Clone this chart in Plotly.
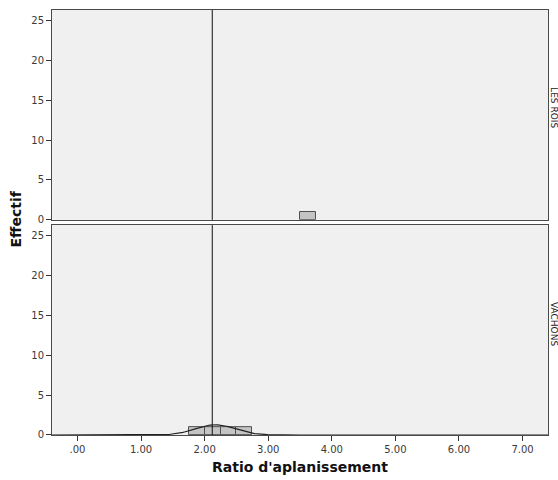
import plotly.graph_objects as go
from plotly.subplots import make_subplots
import numpy as np

# ---- data ----
panel_names = ["LES ROIS", "VACHONS"]
bin_width = 0.25
rois_bin_starts = [3.50]
rois_counts = [1]
vachons_bin_starts = [1.75, 2.00, 2.25, 2.50]
vachons_counts = [1, 1, 1, 1]
# fitted normal curve parameters (VACHONS)
curve_mean = 2.17
curve_sd = 0.31
curve_n = 4
ref_line_x = 2.12
x_tick_vals = [0, 1, 2, 3, 4, 5, 6, 7]
x_tick_text = [".00", "1.00", "2.00", "3.00", "4.00", "5.00", "6.00", "7.00"]
y_tick_vals = [0, 5, 10, 15, 20, 25]

W, H = 558, 480
ml = 52.3
mt = 10
mr = W - 547.7
mb = H - 435.3
plot_w = W - ml - mr
plot_h = H - mt - mb

def py(ypix):
    return (H - mb - ypix) / plot_h

def px(xpix):
    return (xpix - ml) / plot_w

fig = make_subplots(rows=2, cols=1, shared_xaxes=True, vertical_spacing=0.012)

bar_fill = "#c4c4c4"
bar_line = "#505050"

def centers(starts):
    return [s + bin_width / 2 for s in starts]

fig.add_trace(go.Bar(x=centers(rois_bin_starts), y=rois_counts, width=bin_width,
                     marker=dict(color=bar_fill, line=dict(color=bar_line, width=1)),
                     showlegend=False, hoverinfo="skip"), row=1, col=1)
fig.add_trace(go.Bar(x=centers(vachons_bin_starts), y=vachons_counts, width=bin_width,
                     marker=dict(color=bar_fill, line=dict(color=bar_line, width=1)),
                     showlegend=False, hoverinfo="skip"), row=2, col=1)

xs = np.linspace(-0.4, 7.4, 800)
ys = curve_n * bin_width / (curve_sd * np.sqrt(2 * np.pi)) * np.exp(-0.5 * ((xs - curve_mean) / curve_sd) ** 2)
fig.add_trace(go.Scatter(x=xs, y=ys, mode="lines", line=dict(color="#222222", width=1.2),
                         showlegend=False, hoverinfo="skip"), row=2, col=1)

for r in (1, 2):
    fig.add_vline(x=ref_line_x, line=dict(color="#111111", width=1), row=r, col=1)

axis_common = dict(showline=True, linecolor="#4a4a4a", linewidth=1, mirror=True,
                   showgrid=False, zeroline=False,
                   tickfont=dict(family="DejaVu Sans", size=10, color="#3a3a3a"))

fig.update_xaxes(range=[-0.4, 7.4], tickvals=x_tick_vals, ticktext=x_tick_text,
                 ticks="outside", ticklen=5, tickcolor="#333333", **axis_common)
fig.update_xaxes(showticklabels=False, ticks="", row=1, col=1)
fig.update_xaxes(title=dict(text="<b>Ratio d'aplanissement</b>",
                            font=dict(family="DejaVu Sans", size=14, color="#111111"), standoff=8),
                 row=2, col=1)
fig.update_yaxes(range=[0, 26.3], tickvals=y_tick_vals, ticks="outside", ticklen=5,
                 tickcolor="#333333", **axis_common)

fig.update_layout(yaxis=dict(domain=[py(220), 1]), yaxis2=dict(domain=[0, py(225.3)]))

fig.add_annotation(text="<b>Effectif</b>", xref="paper", yref="paper",
                   x=px(16), y=py(219), textangle=-90, showarrow=False,
                   xanchor="center", yanchor="middle",
                   font=dict(family="DejaVu Sans", size=14, color="#111111"))

strip_y = [py(108), py(324)]
for name, yy in zip(panel_names, strip_y):
    fig.add_annotation(text=name, xref="paper", yref="paper",
                       x=px(553.5), y=yy, textangle=90,
                       showarrow=False, xanchor="center", yanchor="middle",
                       font=dict(family="DejaVu Sans", size=9, color="#222222"))

fig.update_layout(width=W, height=H,
                  margin=dict(l=ml, r=mr, t=mt, b=mb, autoexpand=False),
                  paper_bgcolor="white", plot_bgcolor="#f0f0f0", bargap=0)

fig.write_html("out.html", config={"displayModeBar": False},
               post_script="document.body.style.margin='0';document.body.style.overflow='hidden';")
